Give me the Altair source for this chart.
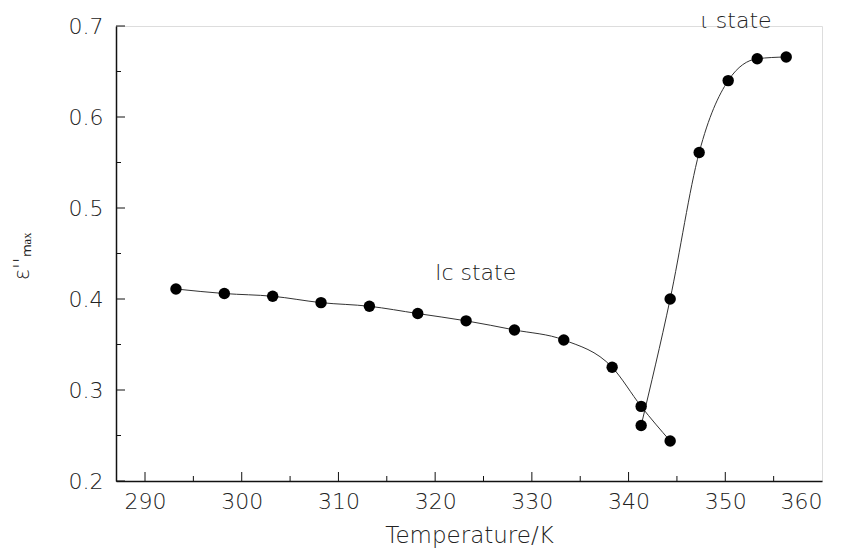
import altair as alt
import pandas as pd

# Data
lc_T = [293.2, 298.2, 303.2, 308.2, 313.2, 318.2, 323.2, 328.2, 333.3, 338.3, 341.3, 344.3]
lc_E = [0.411, 0.406, 0.403, 0.396, 0.392, 0.384, 0.376, 0.366, 0.355, 0.325, 0.282, 0.244]
iota_T = [341.3, 344.3, 347.3, 350.3, 353.3, 356.3]
iota_E = [0.261, 0.400, 0.561, 0.640, 0.664, 0.666]

x_major = [290, 300, 310, 320, 330, 340, 350]
x_minor = [295, 305, 315, 325, 335, 345, 355]
x_labels = [290, 300, 310, 320, 330, 340, 350, 360]
y_major = [0.2, 0.3, 0.4, 0.5, 0.6, 0.7]
y_minor = [0.25, 0.35, 0.45, 0.55, 0.65]

ann_T = [324.2, 351.1]
ann_E = [0.429, 0.7055]
ann_label = ["lc state", "ι state"]

FONT = "DejaVu Sans"
W, H = 706, 455

lc = pd.DataFrame({"T": lc_T, "E": lc_E})
io = pd.DataFrame({"T": iota_T, "E": iota_E})
pts = pd.concat([lc, io], ignore_index=True)
annotations = pd.DataFrame({"T": ann_T, "E": ann_E, "label": ann_label})

xs = alt.Scale(domain=[287, 360], nice=False, zero=False)
ys = alt.Scale(domain=[0.2, 0.7], nice=False, zero=False)

x_axis = alt.Axis(values=x_labels, format="d", ticks=False, tickSize=0, grid=False,
                  domainColor="#111", domainWidth=1.5,
                  labelFont=FONT, labelFontSize=22, labelFontWeight=200, labelColor="#222",
                  labelPadding=10,
                  title="Temperature/K", titleFont=FONT, titleFontSize=23, titleFontWeight=200,
                  titleColor="#222", titlePadding=12)
y_axis = alt.Axis(values=y_major, format=".1f", ticks=False, tickSize=0, grid=False,
                  domainColor="#111", domainWidth=1.5,
                  labelFont=FONT, labelFontSize=22, labelFontWeight=200, labelColor="#222",
                  labelPadding=13,
                  title="ε''ₘₐₓ", titleFont=FONT, titleFontSize=21, titleFontWeight=200,
                  titleColor="#222", titleAngle=270, titleX=-94, titleY=230,
                  titleAlign="center", titleBaseline="middle")

line_lc = alt.Chart(lc).mark_line(interpolate="monotone", color="#333", strokeWidth=1).encode(
    x=alt.X("T:Q", scale=xs, axis=x_axis),
    y=alt.Y("E:Q", scale=ys, axis=y_axis),
)
line_io = alt.Chart(io).mark_line(interpolate="monotone", color="#333", strokeWidth=1).encode(
    x=alt.X("T:Q", scale=xs),
    y=alt.Y("E:Q", scale=ys),
)
points = alt.Chart(pts).mark_point(filled=True, color="black", size=130, opacity=1).encode(
    x=alt.X("T:Q", scale=xs),
    y=alt.Y("E:Q", scale=ys),
)

# inward ticks
xmaj = alt.Chart(pd.DataFrame({"v": x_major})).mark_rule(color="#111", strokeWidth=1).encode(
    x=alt.X("v:Q", scale=xs), y=alt.value(H), y2=alt.value(H - 9))
xmin = alt.Chart(pd.DataFrame({"v": x_minor})).mark_rule(color="#111", strokeWidth=1).encode(
    x=alt.X("v:Q", scale=xs), y=alt.value(H), y2=alt.value(H - 5))
ymaj = alt.Chart(pd.DataFrame({"v": y_major})).mark_rule(color="#111", strokeWidth=1).encode(
    y=alt.Y("v:Q", scale=ys), x=alt.value(0), x2=alt.value(9))
ymin = alt.Chart(pd.DataFrame({"v": y_minor})).mark_rule(color="#111", strokeWidth=1).encode(
    y=alt.Y("v:Q", scale=ys), x=alt.value(0), x2=alt.value(5))

text = alt.Chart(annotations).mark_text(font=FONT, fontSize=22, fontWeight=200, color="#222",
                                         clip=False).encode(
    x=alt.X("T:Q", scale=xs), y=alt.Y("E:Q", scale=ys), text="label:N")

chart = alt.layer(line_lc, line_io, points, xmaj, xmin, ymaj, ymin, text).properties(
    width=W, height=H,
    autosize=alt.AutoSizeParams(type="none"),
    padding={"left": 116, "top": 26, "right": 26, "bottom": 68},
).configure_view(stroke=None).configure(background="white")

chart.save("out.html", embed_options={"renderer": "svg", "actions": False})
